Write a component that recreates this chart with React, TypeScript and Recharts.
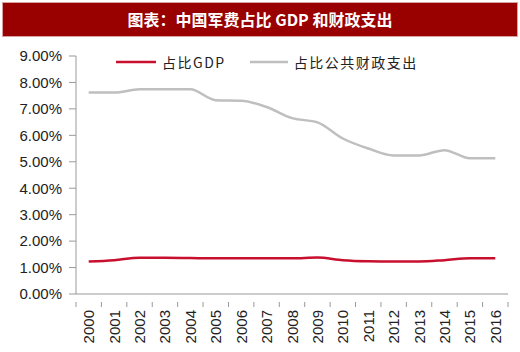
import React from 'react';
import { LineChart, Line, XAxis, YAxis, Legend } from 'recharts';

const years = ['2000','2001','2002','2003','2004','2005','2006','2007','2008','2009','2010','2011','2012','2013','2014','2015','2016'];
const shareGDP = [1.23,1.28,1.37,1.37,1.36,1.35,1.35,1.35,1.35,1.38,1.28,1.24,1.23,1.23,1.28,1.35,1.35];
const shareFiscal = [7.62,7.62,7.74,7.74,7.74,7.33,7.31,7.07,6.65,6.49,5.88,5.5,5.24,5.24,5.44,5.13,5.13];
const yTicks = [0,1,2,3,4,5,6,7,8,9];
const seriesNames = ['占比GDP', '占比公共财政支出'];
const colors = ['#C8102E', '#BFBFBF'];

const data = years.map((y, i) => ({ year: y, gdp: shareGDP[i], fiscal: shareFiscal[i] }));

const W = 520, H = 352;
const M = { top: 56, right: 12, bottom: 0, left: 0 };
const YW = 76, XH = 58;
const plotW = W - M.left - M.right - YW;
const half = plotW / years.length / 2;

const XTick = (props: any) => {
  const { x, y, payload, index } = props;
  const last = index === years.length - 1;
  return (
    <g>
      <line x1={x - half} x2={x - half} y1={y} y2={y + 5} stroke="#999" />
      {last && <line x1={x + half} x2={x + half} y1={y} y2={y + 5} stroke="#999" />}
      <text x={x} y={y + 8} transform={`rotate(-90 ${x} ${y + 8})`} textAnchor="end" dominantBaseline="central"
        fontFamily="Liberation Sans, Arial, sans-serif" fontSize={15} fill="#222">{payload.value}</text>
    </g>
  );
};

const LegendContent = () => (
  <div style={{ display: 'flex', alignItems: 'center', fontFamily: '"Noto Sans CJK SC", serif', fontSize: 14, color: '#222', letterSpacing: 1.5 }}>
    {seriesNames.map((n, i) => (
      <div key={n} style={{ display: 'flex', alignItems: 'center', marginRight: i === 0 ? 24 : 0 }}>
        <svg width={i === 0 ? 40 : 38} height={6} style={{ marginRight: 6 }}><line x1={0} x2={40} y1={3} y2={3} stroke={colors[i]} strokeWidth={2.5} /></svg>
        <span>{n}</span>
      </div>
    ))}
  </div>
);

export default function App() {
  return (
    <div style={{ position: 'absolute', left: 0, top: 0, width: W, height: H, background: '#fff' }}>
      <div style={{ position: 'absolute', left: 2, top: 2, width: 514, height: 33, background: '#990000', border: '1px solid #d9a0a0',
        color: '#fff', fontFamily: '"Noto Sans CJK SC", sans-serif', fontWeight: 'bold', fontSize: 16, lineHeight: '33px', textAlign: 'center', whiteSpace: 'pre' }}>
        图表：中国军费占比 GDP 和财政支出
      </div>
      <div style={{ position: 'absolute', left: 0, top: 0 }}>
        <LineChart width={W} height={H} data={data} margin={M}>
          <XAxis dataKey="year" height={XH} interval={0} tick={<XTick />} tickLine={false} stroke="#999"
            padding={{ left: half, right: half }} />
          <YAxis width={YW} domain={[0, 9]} ticks={yTicks} tickSize={7} tickMargin={7} stroke="#999"
            tickFormatter={(v: number) => v.toFixed(2) + '%'}
            tick={{ fontFamily: 'Liberation Sans, Arial, sans-serif', fontSize: 15, fill: '#222' }} />
          <Legend verticalAlign="middle" align="center" layout="horizontal" content={<LegendContent />}
            wrapperStyle={{ top: 52, left: 116, width: 'auto' }} />
          <Line type="monotone" dataKey="gdp" name={seriesNames[0]} stroke={colors[0]} strokeWidth={2.5} dot={false} isAnimationActive={false} />
          <Line type="monotone" dataKey="fiscal" name={seriesNames[1]} stroke={colors[1]} strokeWidth={2.5} dot={false} isAnimationActive={false} />
        </LineChart>
      </div>
    </div>
  );
}
